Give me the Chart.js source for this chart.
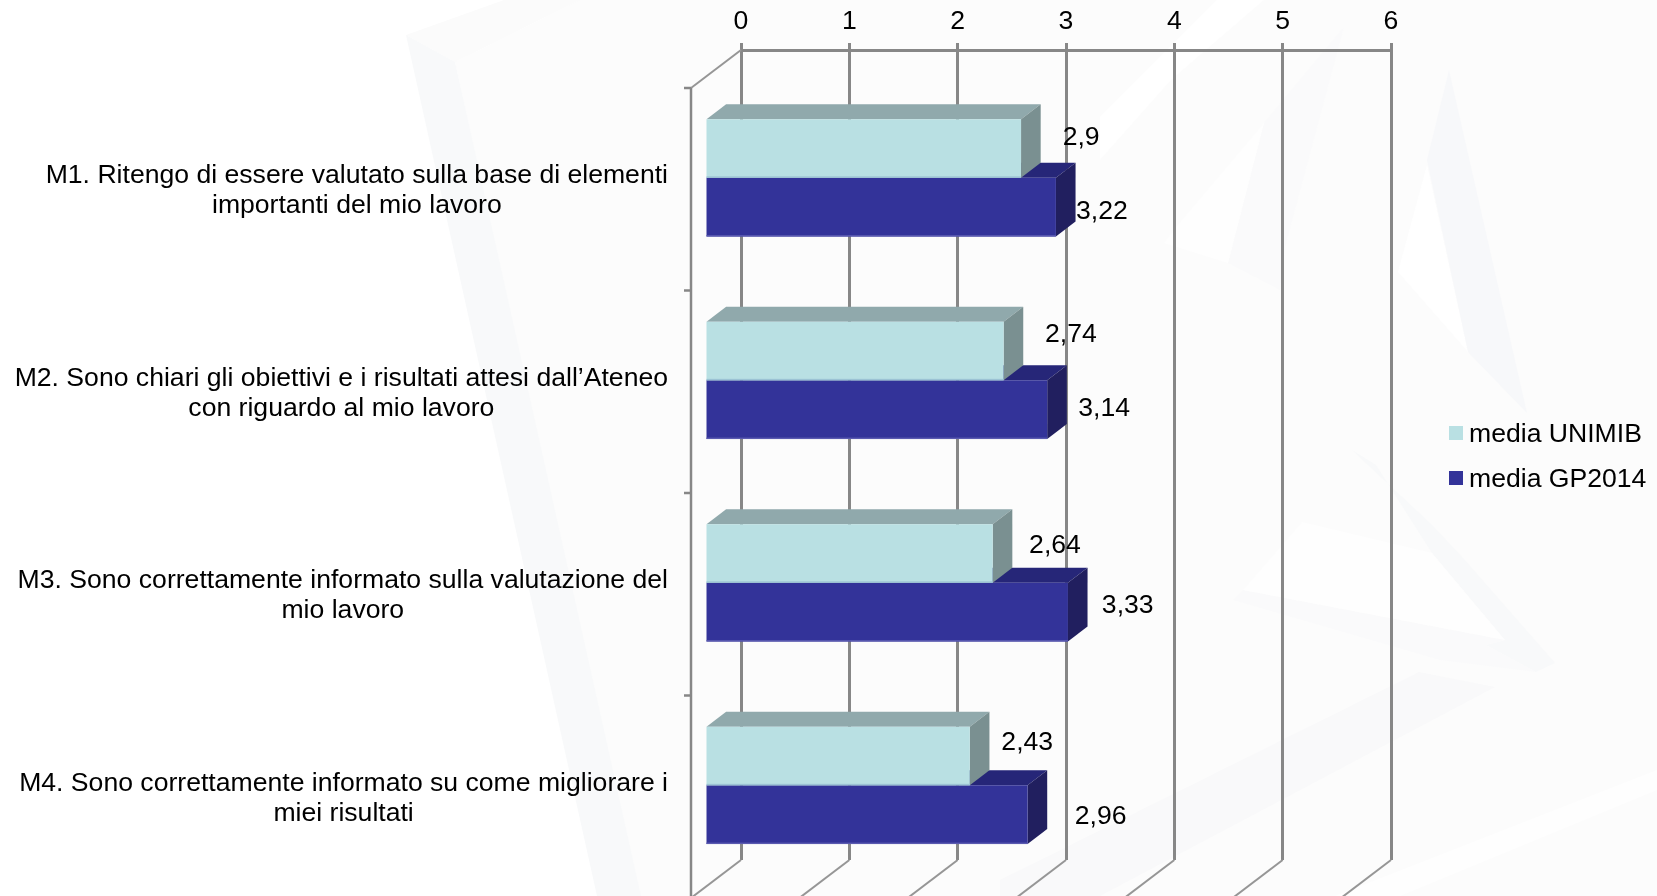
<!DOCTYPE html>
<html>
<head>
<meta charset="utf-8">
<title>Chart</title>
<script src="https://cdn.jsdelivr.net/npm/chart.js@4/dist/chart.umd.min.js"></script>
<style>
  html, body { margin: 0; padding: 0; background: #fff; overflow: hidden; }
  canvas { display: block; }
</style>
</head>
<body>
<canvas id="myChart" width="1657" height="896"></canvas>
<script>
// data
const categories = [
  ["M1. Ritengo di essere valutato sulla base di elementi", "importanti del mio lavoro"],
  ["M2. Sono chiari gli obiettivi e i risultati attesi dall\u2019Ateneo", "con riguardo al mio lavoro"],
  ["M3. Sono correttamente informato sulla valutazione del", "mio lavoro"],
  ["M4. Sono correttamente informato su come migliorare i", "miei risultati"]
];
const mediaUnimib = [2.9, 2.74, 2.64, 2.43];
const mediaGp2014 = [3.22, 3.14, 3.33, 2.96];
const seriesNames = ["media UNIMIB", "media GP2014"];
const xTicks = [0, 1, 2, 3, 4, 5, 6];

// 3d look, in pixels
const FONT = "26.6px 'Liberation Sans', Arial, sans-serif";
const WALL_DX = -50, WALL_DY = 38;   // back wall -> front of the floor
const BAR_DX = -36, BAR_DY = 26.6;   // back wall -> front face of a bar
const BAR_STRETCH = 1.006;           // the front plane is a little closer than the wall
const FACE_DX = 19.5, FACE_DY = -15; // front face -> back of a bar
const AXIS_COLOR = "#878787";
const topFaces = ["#90a9ac", "#262678"];
const sideFaces = ["#7a9091", "#211f5f"];
const bottomEdges = ["#9cc3d4", "#5a5ab0"];

// the labels sit by hand in the original, so each one has its own nudge from the bar end
const labelNudges = [
  [[62, -11], [69, -16], [64, -8], [59, -13]],
  [[48, 4], [59, -1], [62, -7], [75, 2]]
];

// faint watermark behind the chart
const watermark = [
  ["#fcfcfc", [[455, 62], [580, 0], [1657, 0], [1657, 896], [638, 896]]],
  ["#fbfbfb", [[406, 35], [504, 0], [580, 0], [455, 62]]],
  ["#f8f9fa", [[406, 35], [455, 62], [641, 896], [597, 896]]],
  ["#ffffff", [[1100, 160], [1171, 80], [1264, 0], [1217, 0], [1100, 117]]],
  ["#fafafb", [[1344, 27], [1285, 247], [1280, 290], [1228, 263], [1264, 123]]],
  ["#fefefe", [[1176, 227], [1264, 123], [1228, 263], [1164, 243]]],
  ["#ffffff", [[1427, 165], [1398, 272], [1468, 352]]],
  ["#f7f8fa", [[1449, 70], [1427, 160], [1468, 352], [1527, 413]]],
  ["#f8f9fa", [[1352, 450], [1432, 525], [1463, 558], [1555, 663], [1536, 672], [1486, 645], [1505, 640], [1432, 553], [1376, 465]]],
  ["#fafafb", [[1233, 600], [1243, 590], [1505, 640], [1486, 645], [1536, 672], [1440, 660]]],
  ["#fefefe", [[1302, 522], [1432, 553], [1505, 640], [1243, 590]]],
  ["#f9f9fa", [[1419, 672], [1495, 687], [1100, 896], [1000, 896], [1000, 880]]],
  ["#fefefe", [[1657, 770], [1657, 790], [1400, 896], [1335, 896]]]
];

const depthPlugin = {
  id: "depth",
  beforeDraw(chart) {
    const ctx = chart.ctx;
    ctx.save();
    ctx.fillStyle = "#ffffff";
    ctx.fillRect(0, 0, chart.width, chart.height);
    watermark.forEach(([color, pts]) => {
      ctx.fillStyle = color;
      ctx.beginPath();
      pts.forEach((p, i) => (i ? ctx.lineTo(p[0], p[1]) : ctx.moveTo(p[0], p[1])));
      ctx.closePath();
      ctx.fill();
    });
    ctx.restore();
  },
  // floor and left side of the box, from the scales
  beforeDatasetsDraw(chart) {
    const { ctx, scales: { x, y }, chartArea: area } = chart;
    ctx.save();
    ctx.strokeStyle = "#969696";
    ctx.lineWidth = 2;
    xTicks.forEach((t) => {
      const px = x.getPixelForValue(t);
      ctx.beginPath();
      ctx.moveTo(px, area.bottom);
      ctx.lineTo(px + WALL_DX, area.bottom + WALL_DY);
      ctx.stroke();
    });
    const front = x.getPixelForValue(0) + WALL_DX;
    ctx.beginPath();
    ctx.moveTo(x.getPixelForValue(0), area.top);
    ctx.lineTo(front, area.top + WALL_DY);
    ctx.stroke();
    ctx.strokeStyle = AXIS_COLOR;
    ctx.lineWidth = 2.5;
    ctx.beginPath();
    ctx.moveTo(front, area.top + WALL_DY);
    ctx.lineTo(front, area.bottom + WALL_DY);
    ctx.stroke();
    for (let i = 0; i <= categories.length; i++) {
      const py = y.getPixelForValue(i - 0.5) + WALL_DY;
      ctx.beginPath();
      ctx.moveTo(front - 7, py);
      ctx.lineTo(front, py);
      ctx.stroke();
    }
    ctx.restore();
  },
  // bars are moved forward in the box and get a top and a side
  beforeDatasetDraw(chart, args) {
    const ctx = chart.ctx;
    const i = args.index;
    const zero = chart.scales.x.getPixelForValue(0);
    ctx.save();
    ctx.translate(zero + BAR_DX, BAR_DY);
    ctx.scale(BAR_STRETCH, 1);
    ctx.translate(-zero, 0);
    args.meta.data.forEach((bar) => {
      const top = bar.y - bar.height / 2;
      const bottom = bar.y + bar.height / 2;
      ctx.fillStyle = topFaces[i];
      ctx.beginPath();
      ctx.moveTo(bar.base, top);
      ctx.lineTo(bar.base + FACE_DX, top + FACE_DY);
      ctx.lineTo(bar.x + FACE_DX, top + FACE_DY);
      ctx.lineTo(bar.x, top);
      ctx.closePath();
      ctx.fill();
      ctx.fillStyle = sideFaces[i];
      ctx.beginPath();
      ctx.moveTo(bar.x, top);
      ctx.lineTo(bar.x + FACE_DX, top + FACE_DY);
      ctx.lineTo(bar.x + FACE_DX, bottom + FACE_DY);
      ctx.lineTo(bar.x, bottom);
      ctx.closePath();
      ctx.fill();
    });
  },
  afterDatasetDraw(chart, args) {
    const ctx = chart.ctx;
    args.meta.data.forEach((bar) => {
      ctx.fillStyle = bottomEdges[args.index];
      ctx.fillRect(bar.base, bar.y + bar.height / 2 - 1.5, bar.x - bar.base, 1.5);
    });
    ctx.restore();
  },
  afterDatasetsDraw(chart) {
    const { ctx, scales: { y } } = chart;
    ctx.save();
    ctx.font = FONT;
    ctx.fillStyle = "#000";
    ctx.textBaseline = "middle";

    // value labels, with a comma as in the original
    chart.data.datasets.forEach((ds, d) => {
      chart.getDatasetMeta(d).data.forEach((bar, i) => {
        const [nx, ny] = labelNudges[d][i];
        ctx.textAlign = "center";
        ctx.fillText(String(ds.data[i]).replace(".", ","), bar.x + BAR_DX + nx, bar.y + BAR_DY + ny);
      });
    });

    // category labels: centred lines, block flush to the right
    ctx.textAlign = "center";
    categories.forEach((lines, i) => {
      const widest = Math.max(...lines.map((l) => ctx.measureText(l).width));
      const cx = 668 - widest / 2;
      const cy = y.getPixelForValue(i) + WALL_DY + 1.5;
      ctx.fillText(lines[0], cx, cy - 15);
      ctx.fillText(lines[1], cx, cy + 15);
    });

    // legend
    chart.data.datasets.forEach((ds, d) => {
      const ly = 433 + d * 45;
      ctx.fillStyle = ds.backgroundColor;
      ctx.fillRect(1449, ly - 7, 14, 14);
      ctx.fillStyle = "#000";
      ctx.textAlign = "left";
      ctx.fillText(ds.label, 1469, ly + 2);
    });
    ctx.restore();
  }
};

new Chart(document.getElementById("myChart"), {
  type: "bar",
  plugins: [depthPlugin],
  data: {
    labels: categories,
    datasets: [
      { label: seriesNames[0], data: mediaUnimib, backgroundColor: "#b9e0e3", clip: false },
      { label: seriesNames[1], data: mediaGp2014, backgroundColor: "#333399", clip: false }
    ]
  },
  options: {
    indexAxis: "y",
    responsive: false,
    animation: false,
    events: [],
    layout: { padding: { left: 0, top: 0, right: 266, bottom: 36 } },
    datasets: { bar: { categoryPercentage: 0.58, barPercentage: 1 } },
    plugins: { legend: { display: false }, tooltip: { enabled: false } },
    scales: {
      x: {
        position: "top",
        min: 0,
        max: 6,
        afterFit(scale) { scale.height = 50; },
        afterBuildTicks(scale) { scale.ticks = xTicks.map((value) => ({ value })); },
        ticks: {
          padding: 5,
          maxRotation: 0,
          color: "#000",
          font: { family: "'Liberation Sans', Arial, sans-serif", size: 26.6 }
        },
        border: { display: true, color: AXIS_COLOR, width: 3 },
        grid: { color: AXIS_COLOR, lineWidth: 3, tickLength: 7, drawTicks: true }
      },
      y: {
        afterFit(scale) { scale.width = 741; },
        ticks: { display: false },
        border: { display: false },
        grid: { display: false }
      }
    }
  }
});
</script>
</body>
</html>
